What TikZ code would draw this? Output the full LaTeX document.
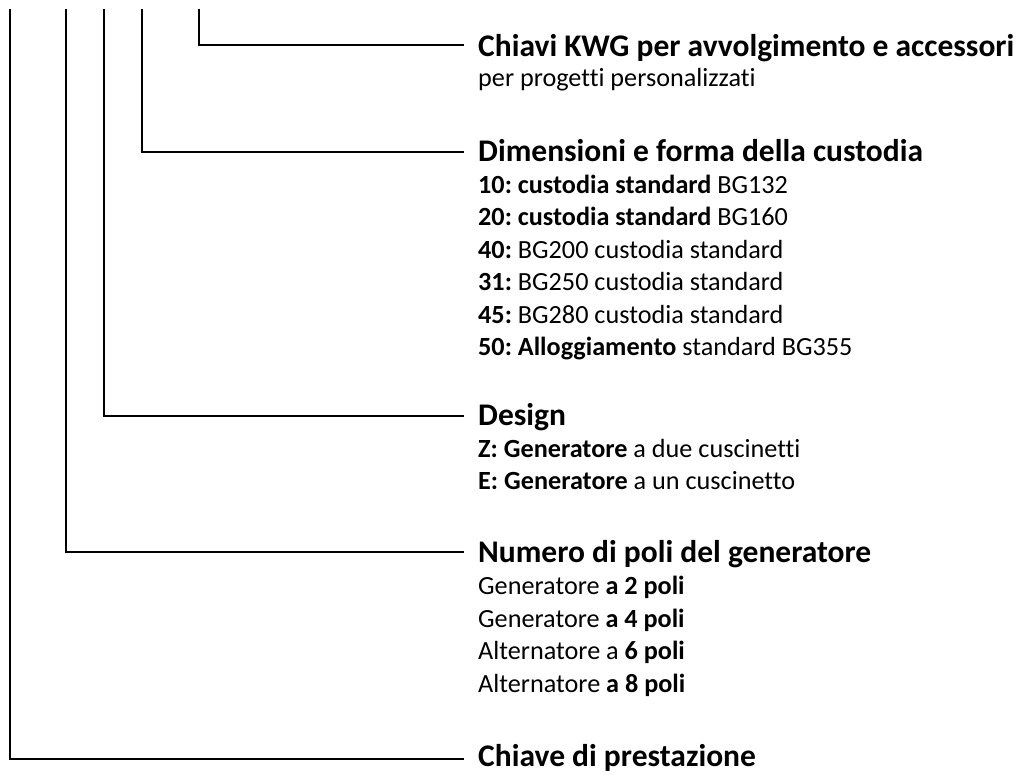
\documentclass[tikz,border=0pt]{standalone}
\usepackage{fontspec}
\setmainfont{Carlito}[Ligatures=NoCommon]
\frenchspacing
\begin{document}
\begin{tikzpicture}[x=1pt,y=-1pt,
  conn/.style={line width=2pt,line cap=rect},
  ttl/.style={anchor=base west,inner sep=0pt,font=\fontsize{31.5}{34}\selectfont\bfseries},
  itm/.style={anchor=base west,inner sep=0pt,font=\fontsize{26.2}{30}\selectfont}]
\useasboundingbox (0,0) rectangle (1027,774);
% tops of the vertical lines
\coordinate (v1) at (10,10);
\coordinate (v2) at (66,10);
\coordinate (v3) at (104,10);
\coordinate (v4) at (142,10);
\coordinate (v5) at (199,10);
% ends of the horizontal lines
\coordinate (e5) at (463,45);
\coordinate (e4) at (463,152);
\coordinate (e3) at (463,416);
\coordinate (e2) at (463,552);
\coordinate (e1) at (463,759);
\draw[conn] (v5) |- (e5);
\draw[conn] (v4) |- (e4);
\draw[conn] (v3) |- (e3);
\draw[conn] (v2) |- (e2);
\draw[conn] (v1) |- (e1);
% block 5
\node[ttl] (t5) at (478,56) {Chiavi KWG per avvolgimento e accessori};
\node[itm] (t5a) at (478,86) {per progetti personalizzati};
% block 4
\node[ttl] (t4) at (478,161) {Dimensioni e forma della custodia};
\node[itm] (t4a) at (478,193) {\textbf{10: custodia standard} BG132};
\node[itm] (t4b) at (478,225.5) {\textbf{20: custodia standard} BG160};
\node[itm] (t4c) at (478,258) {\textbf{40:} BG200 custodia standard};
\node[itm] (t4d) at (478,290.5) {\textbf{31:} BG250 custodia standard};
\node[itm] (t4e) at (478,323) {\textbf{45:} BG280 custodia standard};
\node[itm] (t4f) at (478,355.5) {\textbf{50: Alloggiamento} standard BG355};
% block 3
\node[ttl] (t3) at (478,425) {Design};
\node[itm] (t3a) at (478,457) {\textbf{Z: Generatore} a due cuscinetti};
\node[itm] (t3b) at (478,489.5) {\textbf{E: Generatore} a un cuscinetto};
% block 2
\node[ttl] (t2) at (478,562) {Numero di poli del generatore};
\node[itm] (t2a) at (478,594.5) {Generatore \textbf{a 2 poli}};
\node[itm] (t2b) at (478,627) {Generatore \textbf{a 4 poli}};
\node[itm] (t2c) at (478,659.5) {Alternatore a \textbf{6 poli}};
\node[itm] (t2d) at (478,692) {Alternatore \textbf{a 8 poli}};
% block 1
\node[ttl] (t1) at (478,766) {Chiave di prestazione};
\end{tikzpicture}
\end{document}
